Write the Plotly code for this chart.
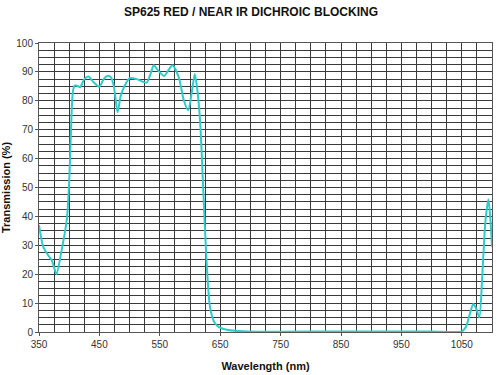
import plotly.graph_objects as go

wavelength = [350, 357, 365, 371, 379, 387, 396, 400, 403, 406, 409, 413, 418, 425, 432,
              440, 450, 457, 463, 469, 474, 480, 485, 490, 500, 512, 528, 535, 540, 547,
              557, 564, 571, 581, 590, 597, 603, 608, 612, 617, 622, 627, 633, 640, 645,
              652, 661, 675, 695, 750, 850, 950, 1000, 1050, 1057, 1063, 1069, 1074, 1079,
              1084, 1089, 1094, 1097, 1100]
transmission = [37, 29.5, 26.6, 24.9, 20.1, 27.8, 38.8, 52, 70, 83, 85.3, 85.2, 84.7, 87.5, 88.4,
                86.5, 84.9, 87.5, 88.6, 88.2, 85, 76, 81.5, 84.4, 87.8, 87.5, 86.3, 89.5, 92.3, 90.5,
                88.6, 90.5, 92.3, 88.4, 80, 76.7, 83, 89.3, 84, 72, 49, 26, 8.8, 3.5, 2.2,
                1.3, 0.8, 0.4, 0.2, 0.1, 0.2, 0.2, 0.2, 0.2, 1.8, 6, 9.7, 8, 5.1,
                20, 38, 45.9, 40, 29.5]

title_text = "SP625 RED / NEAR IR DICHROIC BLOCKING"
x_title = "Wavelength (nm)"
y_title = "Transmission (%)"

fig = go.Figure()
fig.add_trace(go.Scatter(
    x=wavelength, y=transmission, mode="lines",
    line=dict(color="#2ECBCB", width=2, shape="spline", smoothing=0.7),
    hoverinfo="skip", showlegend=False, cliponaxis=True))

axis_font = dict(family="Liberation Sans, Arial, sans-serif", size=10, color="#333333")
title_font = dict(family="Liberation Sans, Arial, sans-serif", size=11, color="#111111")

fig.update_layout(
    width=500, height=375,
    margin=dict(l=39, r=8, t=43, b=43, autoexpand=False),
    paper_bgcolor="white", plot_bgcolor="white",
    title=dict(text="<b>" + title_text + "</b>", x=0.502, xanchor="center", y=0.969, yanchor="middle",
               automargin=False,
               font=dict(family="Liberation Sans, Arial, sans-serif", size=12, color="#111111")),
    xaxis=dict(range=[350, 1100], tick0=350, dtick=100, showgrid=True, gridcolor="#3a3a3a", gridwidth=1,
               minor=dict(dtick=25, tick0=350, showgrid=True, gridcolor="#3a3a3a", gridwidth=1),
               showline=True, linecolor="#555555", linewidth=1, mirror=True,
               ticks="outside", ticklen=3, tickcolor="#555555", tickfont=axis_font,
               zeroline=False, automargin=False,
               title=dict(text="<b>" + x_title + "</b>", font=title_font, standoff=13)),
    yaxis=dict(range=[0, 100], tick0=0, dtick=10, showgrid=True, gridcolor="#3a3a3a", gridwidth=1,
               minor=dict(dtick=2.5, showgrid=True, gridcolor="#3a3a3a", gridwidth=1),
               showline=True, linecolor="#555555", linewidth=1, mirror=True,
               ticks="outside", ticklen=3, tickcolor="#555555", tickfont=axis_font,
               zeroline=False, automargin=False,
               title=dict(text="<b>" + y_title + "</b>", font=title_font, standoff=4)),
)

fig.write_html("out.html", config={"displayModeBar": False},
               post_script="document.body.style.margin='0';")
